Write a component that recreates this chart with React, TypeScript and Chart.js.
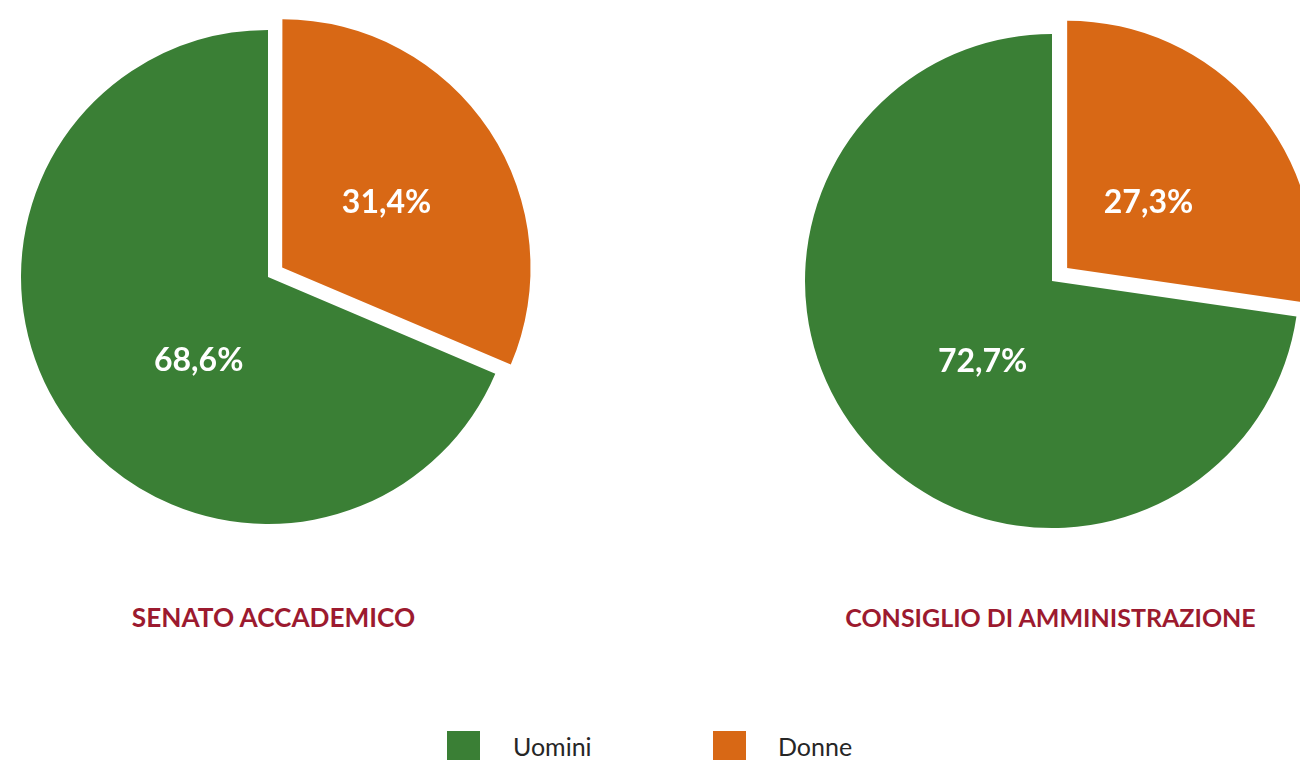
import { useEffect, useRef } from "react";
import { Chart, registerables } from "chart.js";

Chart.register(...registerables);

// ---- Data ----
const categories = ["Uomini", "Donne"];
const senatoValues = [68.6, 31.4];
const consiglioValues = [72.7, 27.3];
const chartTitles = ["SENATO ACCADEMICO", "CONSIGLIO DI AMMINISTRAZIONE"];

// ---- Styles ----
const sliceColors = ["#3a7f35", "#d86815"];
const titleColor = "#9c1a2f";
const FONT = "Lato, 'Noto Sans', sans-serif";
const PIE_RADIUS = 247;
const CANVAS_SIZE = 600;

const fmt = (v: number) => v.toFixed(1).replace(".", ",") + "%";

const labelPlugin = {
  id: "sliceLabels",
  afterDatasetsDraw(chart: any, _args: any, opts: any) {
    const meta = chart.getDatasetMeta(0);
    const ds = chart.data.datasets[0];
    const ctx = chart.ctx;
    ctx.save();
    ctx.font = `bold 32px ${FONT}`;
    ctx.fillStyle = "#ffffff";
    ctx.textAlign = "center";
    ctx.textBaseline = "alphabetic";
    meta.data.forEach((arc: any, i: number) => {
      const p = arc.getProps(["x", "y", "startAngle", "endAngle", "outerRadius"], true);
      const anchor = opts.anchors[i];
      const off = (arc.options.offset || 0) / 4;
      const mid = (p.startAngle + p.endAngle) / 2;
      const cx = p.x + Math.cos(mid) * off;
      const cy = p.y + Math.sin(mid) * off;
      const a = p.startAngle + (p.endAngle - p.startAngle) * anchor.t;
      const r = p.outerRadius * anchor.r;
      ctx.fillText(fmt(ds.data[i]), cx + Math.cos(a) * r, cy + Math.sin(a) * r + 11.5);
    });
    ctx.restore();
  },
};

type PieProps = {
  values: number[];
  cx: number;
  cy: number;
  offset: number;
  anchors: { t: number; r: number }[];
};

function Pie({ values, cx, cy, offset, anchors }: PieProps) {
  const ref = useRef<HTMLCanvasElement | null>(null);
  useEffect(() => {
    if (!ref.current) return;
    const total = values.reduce((a, b) => a + b, 0);
    const rotation = (values[1] / total) * 360;
    const chart = new Chart(ref.current, {
      type: "pie",
      data: {
        labels: categories,
        datasets: [
          {
            data: values,
            backgroundColor: sliceColors,
            borderWidth: 0,
            offset: [0, offset],
            hoverOffset: 0,
          },
        ],
      },
      options: {
        responsive: false,
        animation: false,
        events: [],
        rotation,
        radius: PIE_RADIUS,
        layout: { padding: 0 },
        plugins: {
          legend: { display: false },
          tooltip: { enabled: false },
          // @ts-ignore
          sliceLabels: { anchors },
        },
      } as any,
      plugins: [labelPlugin as any],
    });
    return () => chart.destroy();
  }, [values, offset, anchors]);
  return (
    <canvas
      ref={ref}
      width={CANVAS_SIZE}
      height={CANVAS_SIZE}
      style={{
        position: "absolute",
        left: cx - CANVAS_SIZE / 2,
        top: cy - CANVAS_SIZE / 2,
        width: CANVAS_SIZE,
        height: CANVAS_SIZE,
      }}
    />
  );
}

const leftAnchors = [
  { t: 0.433, r: 0.437 },
  { t: 0.51, r: 0.5 },
];
const rightAnchors = [
  { t: 0.469, r: 0.428 },
  { t: 0.517, r: 0.425 },
];

export default function App() {
  const titleStyle = (x: number, size: number): React.CSSProperties => ({
    position: "absolute",
    left: x,
    top: 602,
    transform: "translateX(-50%)",
    whiteSpace: "nowrap",
    fontFamily: FONT,
    fontWeight: 700,
    fontSize: size,
    lineHeight: "30px",
    color: titleColor,
  });
  const legendText = (x: number): React.CSSProperties => ({
    position: "absolute",
    left: x,
    top: 733.5,
    fontFamily: FONT,
    fontSize: 25,
    lineHeight: "24px",
    color: "#262626",
    whiteSpace: "nowrap",
  });
  const swatch = (x: number, c: string): React.CSSProperties => ({
    position: "absolute",
    left: x,
    top: 731,
    width: 33,
    height: 33,
    background: c,
  });
  return (
    <div
      style={{
        position: "absolute",
        left: 0,
        top: 0,
        width: 1300,
        height: 760,
        overflow: "hidden",
        background: "#ffffff",
      }}
    >
      <Pie values={senatoValues} cx={268} cy={277} offset={68} anchors={leftAnchors} />
      <Pie values={consiglioValues} cx={1052} cy={281} offset={80} anchors={rightAnchors} />
      <div style={titleStyle(273.5, 26.2)}>{chartTitles[0]}</div>
      <div style={titleStyle(1050.5, 25)}>{chartTitles[1]}</div>
      <div style={swatch(447, sliceColors[0])} />
      <div style={legendText(513)}>{categories[0]}</div>
      <div style={swatch(713, sliceColors[1])} />
      <div style={legendText(778)}>{categories[1]}</div>
    </div>
  );
}
